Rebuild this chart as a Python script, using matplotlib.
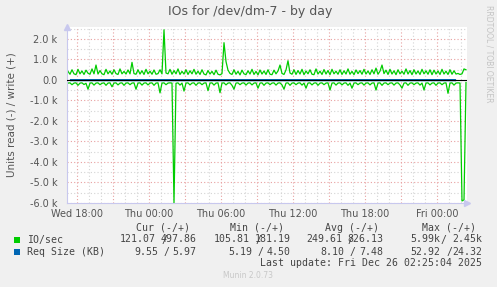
import matplotlib
matplotlib.use('Agg')
import matplotlib.pyplot as plt
import matplotlib.dates as mdates
from matplotlib.patches import Rectangle
from matplotlib.ticker import FuncFormatter, MultipleLocator
import pandas as pd

# IO/sec samples, 10 min apart, Wed 17:15 -> Fri 02:25
times = pd.date_range('2025-12-24 17:15', periods=200, freq='10min')

io_write = [
    420, 280, 500, 300, 260, 520, 300, 440, 270, 480,
    330, 280, 540, 300, 730, 290, 460, 300, 260, 520,
    300, 440, 280, 500, 310, 270, 540, 300, 420, 290,
    490, 300, 860, 310, 280, 500, 290, 450, 270, 520,
    300, 430, 280, 490, 280, 310, 500, 300, 2450, 340,
    300, 520, 280, 460, 300, 540, 270, 420, 290, 500,
    270, 450, 300, 520, 280, 430, 270, 500, 290, 250,
    460, 290, 420, 260, 480, 280, 250, 310, 1820, 900,
    480, 320, 270, 500, 280, 420, 250, 480, 300, 260,
    450, 290, 520, 270, 420, 250, 490, 290, 440, 270,
    500, 280, 260, 480, 300, 440, 730, 320, 270, 490,
    940, 340, 280, 500, 270, 460, 290, 520, 260, 440,
    300, 500, 280, 260, 540, 290, 430, 270, 510, 290,
    460, 260, 520, 300, 430, 280, 500, 270, 450, 290,
    540, 280, 420, 260, 490, 310, 460, 280, 520, 290,
    440, 270, 500, 300, 580, 280, 430, 730, 310, 480,
    270, 520, 290, 450, 260, 500, 300, 430, 280, 540,
    290, 460, 260, 500, 290, 440, 270, 520, 300, 450,
    280, 500, 260, 480, 290, 440, 270, 520, 290, 430,
    270, 500, 280, 450, 290, 320, 270, 300, 540, 498,
]

io_read = [
    150, 140, 230, 150, 140, 260, 150, 140, 220, 160,
    450, 150, 140, 250, 150, 140, 230, 160, 140, 260,
    150, 140, 330, 150, 140, 240, 150, 140, 260, 150,
    140, 230, 150, 140, 450, 150, 140, 250, 150, 140,
    240, 150, 140, 260, 150, 140, 630, 150, 140, 230,
    150, 140, 150, 5990, 160, 140, 250, 150, 540, 150,
    140, 240, 150, 140, 260, 150, 140, 230, 150, 140,
    520, 150, 140, 250, 150, 140, 620, 150, 140, 240,
    150, 140, 260, 450, 150, 140, 230, 150, 140, 250,
    150, 140, 240, 150, 140, 400, 150, 140, 260, 150,
    140, 230, 150, 140, 250, 150, 140, 240, 450, 150,
    140, 260, 150, 140, 230, 150, 140, 250, 150, 400,
    150, 140, 240, 150, 140, 260, 150, 140, 230, 150,
    140, 490, 150, 140, 250, 150, 140, 240, 150, 140,
    260, 150, 400, 150, 140, 230, 150, 140, 250, 150,
    140, 240, 150, 140, 490, 150, 140, 260, 150, 140,
    230, 150, 140, 250, 150, 140, 240, 400, 150, 140,
    260, 150, 140, 230, 150, 140, 250, 150, 490, 150,
    140, 240, 150, 140, 260, 150, 140, 230, 150, 140,
    650, 150, 140, 250, 150, 140, 150, 5900, 5850, 121,
]

# Req size (KB), hourly
req_times = pd.date_range('2025-12-24 17:30', periods=33, freq='1h')
req_read = [8.2, 7.9, 8.5, 8.0, 7.6, 8.3, 8.8, 7.4, 8.1, 8.6, 7.9,
            8.0, 8.4, 7.7, 8.2, 8.9, 7.5, 8.1, 8.3, 7.8, 8.0, 8.6,
            7.9, 8.2, 7.6, 8.4, 8.0, 7.8, 8.5, 8.1, 7.7, 8.3, 9.55]
req_write = [7.4, 7.6, 7.2, 7.8, 7.5, 7.1, 7.9, 7.3, 7.6, 7.4, 7.7,
             7.2, 7.5, 7.8, 7.3, 7.6, 7.4, 7.9, 7.2, 7.5, 7.7, 7.3,
             7.6, 7.4, 7.8, 7.1, 7.5, 7.7, 7.3, 7.6, 7.4, 7.2, 5.97]

# legend: (read, write) for Cur, Min, Avg, Max
headers = ['Cur (-/+)', 'Min (-/+)', 'Avg (-/+)', 'Max (-/+)']
io_legend = [('121.07', '497.86'), ('105.81', '181.19'), ('249.61', '826.13'), ('5.99k', '2.45k')]
req_legend = [('9.55', '5.97'), ('5.19', '4.50'), ('8.10', '7.48'), ('52.92', '24.32')]
legend_rows = [('IO/sec', '#00cc00', io_legend), ('Req Size (KB)', '#0066b3', req_legend)]

W, H = 497, 287
def fx(px):
    return px / W
def fy(py):
    return 1 - py / H

fig = plt.figure(figsize=(W / 100, H / 100), dpi=100, facecolor='#f0f0f0')
ax = fig.add_axes([fx(67), fy(203), 400 / W, 176 / H], facecolor='white')

ax.plot(times, io_write, color='#00cc00', lw=0.9)
ax.plot(times, [-v for v in io_read], color='#00cc00', lw=0.9)
ax.plot(req_times, [-v for v in req_read], color='#0066b3', lw=1.6)
ax.plot(req_times, req_write, color='#0066b3', lw=1.0)
ax.axhline(0, color='black', lw=0.8, zorder=3)

ax.set_xlim(pd.Timestamp('2025-12-24 17:10'), pd.Timestamp('2025-12-26 02:30'))
ax.set_ylim(-6000, 2585)

ax.xaxis.set_major_locator(mdates.HourLocator(byhour=range(0, 24, 3)))
ax.xaxis.set_minor_locator(mdates.HourLocator())
def xfmt(v, pos):
    d = mdates.num2date(v)
    return d.strftime('%a %H:%M') if d.hour % 6 == 0 else ''
ax.xaxis.set_major_formatter(FuncFormatter(xfmt))
ax.yaxis.set_major_locator(MultipleLocator(1000))
ax.yaxis.set_minor_locator(MultipleLocator(500))
ax.yaxis.set_major_formatter(FuncFormatter(lambda v, p: '0.0' if v == 0 else f'{v/1000:.1f} k'))

ax.grid(which='major', color='#e8a0a0', ls=(0, (1, 2)), lw=0.8)
ax.grid(which='minor', color='#d4d4d4', ls=(0, (1, 2)), lw=0.8)
ax.set_axisbelow(True)
ax.tick_params(which='both', length=0, labelsize=7, colors='#555555', pad=7)
ax.tick_params(axis='x', pad=4)

for s in ['top', 'right']:
    ax.spines[s].set_visible(False)
for s in ['left', 'bottom']:
    ax.spines[s].set_color('#c8c8ee')
    ax.spines[s].set_linewidth(0.8)
ax.plot(0, 1.0, marker='^', ms=4, color='#c8c8ee', transform=ax.transAxes, clip_on=False)
ax.plot(1.0, 0, marker='>', ms=4, color='#c8c8ee', transform=ax.transAxes, clip_on=False)

fig.text(fx(250), fy(12), 'IOs for /dev/dm-7 - by day', ha='center', va='center',
         fontsize=9, color='#555555')
fig.text(fx(12), fy(115), 'Units read (-) / write (+)', rotation=90, ha='center', va='center',
         fontsize=7.5, color='#555555')
fig.text(fx(489), fy(5), 'RRDTOOL / TOBI OETIKER', rotation=270, ha='center', va='top',
         fontsize=5.5, color='#c4c4c4')

mono = dict(family='DejaVu Sans Mono', fontsize=7.1, color='#444444', va='center')
hdr_centers = [163, 257, 352, 449]
col_ends = [196.5, 290.5, 383, 482]
# per row and column: (offset of read value end, offset of slash centre) from column end
row_offsets = [
    [(41, 32), (41, 32), (41, 32), (41.6, 38.7)],
    [(38.5, 30), (38.5, 30), (38.5, 30), (41.6, 32.7)],
]
for h, xc in zip(headers, hdr_centers):
    fig.text(fx(xc), fy(228), h, ha='center', **mono)
for r, (label, col, vals) in enumerate(legend_rows):
    y = 239.5 + r * 12.5
    fig.add_artist(Rectangle((fx(14), fy(y + 3)), 6 / W, 6 / H, transform=fig.transFigure,
                             facecolor=col, edgecolor='none'))
    fig.text(fx(27), fy(y), label, ha='left', **mono)
    for (rd, wr), xe, (dl, ds) in zip(vals, col_ends, row_offsets[r]):
        fig.text(fx(xe - dl), fy(y), rd, ha='right', **mono)
        fig.text(fx(xe - ds), fy(y), '/', ha='center', **mono)
        fig.text(fx(xe), fy(y), wr, ha='right', **mono)
fig.text(fx(482), fy(263.5), 'Last update: Fri Dec 26 02:25:04 2025', ha='right', **mono)
fig.text(fx(223), fy(276), 'Munin 2.0.73', ha='left', va='center', fontsize=5.5, color='#c8c8c8')

fig.savefig('out.png', dpi=100, facecolor=fig.get_facecolor())
